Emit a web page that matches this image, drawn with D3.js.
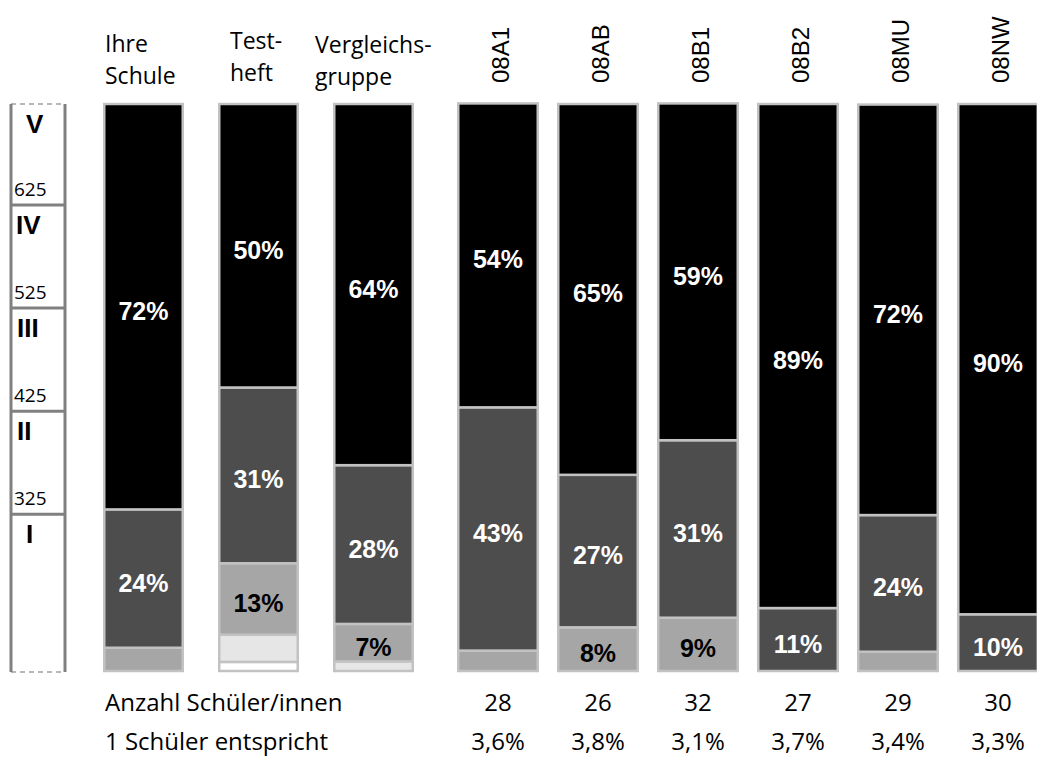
<!DOCTYPE html>
<html>
<head>
<meta charset="utf-8">
<title>Kompetenzstufen</title>
<script src="https://cdn.jsdelivr.net/npm/d3@7"></script>
<style>
body { margin: 0; background: #fff; }
.head { font-family: "Open Sans", sans-serif; font-size: 23px; fill: #000; }
.cls { font-family: "Liberation Sans", Arial, sans-serif; font-size: 24px; fill: #000; }
.pct { font-family: "Liberation Sans", Arial, sans-serif; font-size: 25px; font-weight: bold; }
.foot { font-family: "Open Sans", sans-serif; font-size: 24px; fill: #000; }
.roman { font-family: "Liberation Sans", Arial, sans-serif; font-size: 26px; font-weight: bold; }
.score { font-family: "Open Sans", sans-serif; font-size: 19px; }
</style>
</head>
<body>
<script>
// Spalten
var fixedCols = ["Ihre Schule", "Testheft", "Vergleichsgruppe"];
var classCols = ["08A1", "08AB", "08B1", "08B2", "08MU", "08NW"];
var headLines = [["Ihre", "Schule"], ["Test-", "heft"], ["Vergleichs-", "gruppe"]];

// Anteile je Stufe in %, von unten nach oben
var lvlWhite = [0, 1.6, 0, 0, 0, 0, 0, 0, 0];
var lvlLight = [0, 4.8, 1.7, 0, 0, 0, 0, 0, 0];
var lvlMid   = [4.1, 12.6, 6.6, 3.6, 7.7, 9.4, 0, 3.4, 0];
var lvlDark  = [24.4, 31.0, 28.0, 42.9, 26.9, 31.3, 11.1, 24.1, 10.0];
var lvlBlack = [71.5, 50.0, 63.7, 53.6, 65.4, 59.4, 88.9, 72.4, 90.0];

var counts = ["28", "26", "32", "27", "29", "30"];
var perStudent = ["3,6%", "3,8%", "3,1%", "3,7%", "3,4%", "3,3%"];

// Skala links
var romans = ["V", "IV", "III", "II", "I"];
var romanDx = [26, 16, 17, 17, 26];
var bounds = [625, 525, 425, 325];
var scoreTop = 723, scoreBottom = 172;

var width = 1037, height = 760;
var barTop = 104, barBottom = 671;

var svg = d3.select("body").append("svg")
  .attr("width", width)
  .attr("height", height);

var xFixed = d3.scaleBand().domain(fixedCols).range([103, 414]).paddingInner(0.2957).paddingOuter(0);
var xClass = d3.scaleBand().domain(classCols).range([457, 1039]).paddingInner(0.18).paddingOuter(0);
function xOf(name) { return fixedCols.indexOf(name) >= 0 ? xFixed(name) : xClass(name); }
function bw(name) { return fixedCols.indexOf(name) >= 0 ? xFixed.bandwidth() : xClass.bandwidth(); }

var y = d3.scaleLinear().domain([0, 100]).range([barBottom, barTop]);
var yScore = d3.scaleLinear().domain([scoreBottom, scoreTop]).range([672, 104]);

var fills = ["#ffffff", "#e6e6e6", "#a6a6a6", "#4d4d4d", "#000000"];
var textFill = ["#000", "#000", "#000", "#fff", "#fff"];
var levels = [lvlWhite, lvlLight, lvlMid, lvlDark, lvlBlack];
var allCols = fixedCols.concat(classCols);

// Segmente aufbauen
var segs = [];
allCols.forEach(function(c, i) {
  var acc = 0;
  levels.forEach(function(arr, k) {
    var v = arr[i];
    if (v > 0) segs.push({ col: c, k: k, y0: acc, y1: acc + v, v: v });
    acc += v;
  });
});

svg.selectAll("rect.seg")
  .data(segs)
  .enter().append("rect")
  .attr("class", "seg")
  .attr("x", function(d) { return xOf(d.col) + 1.25; })
  .attr("width", function(d) { return bw(d.col) - 2.5; })
  .attr("y", function(d) { return y(d.y1); })
  .attr("height", function(d) { return y(d.y0) - y(d.y1); })
  .style("fill", function(d) { return fills[d.k]; })
  .style("stroke", "#c2c2c2")
  .style("stroke-width", 2.5);

svg.selectAll("text.pct")
  .data(segs.filter(function(d) { return d.v >= 6; }))
  .enter().append("text")
  .attr("class", "pct")
  .attr("x", function(d) { return xOf(d.col) + bw(d.col) / 2; })
  .attr("y", function(d) { return y((d.y0 + d.y1) / 2) + 13; })
  .attr("text-anchor", "middle")
  .style("fill", function(d) { return textFill[d.k]; })
  .text(function(d) { return Math.round(d.v) + "%"; });

// Kopfzeilen
var headDx = [2, 12, -18];
var headBase = [[52, 84], [49, 81], [53, 85]];
fixedCols.forEach(function(c, i) {
  var t = svg.append("text").attr("class", "head");
  headLines[i].forEach(function(line, j) {
    t.append("tspan")
      .attr("x", xFixed(c) + headDx[i])
      .attr("y", headBase[i][j])
      .text(line);
  });
});

svg.selectAll("text.cls")
  .data(classCols)
  .enter().append("text")
  .attr("class", "cls")
  .attr("transform", function(d) { return "translate(" + (xClass(d) + xClass.bandwidth() / 2 + 11) + ",83) rotate(-90)"; })
  .text(function(d) { return d; });

// Skala links
var sc = svg.append("g");
sc.append("line").attr("x1", 11).attr("x2", 65).attr("y1", yScore(scoreTop)).attr("y2", yScore(scoreTop))
  .style("stroke", "#b8b8b8").style("stroke-width", 2).style("stroke-dasharray", "5,4");
sc.append("line").attr("x1", 11).attr("x2", 65).attr("y1", yScore(scoreBottom)).attr("y2", yScore(scoreBottom))
  .style("stroke", "#b8b8b8").style("stroke-width", 2).style("stroke-dasharray", "5,4");
[11, 65].forEach(function(xx) {
  sc.append("line").attr("x1", xx).attr("x2", xx).attr("y1", yScore(scoreTop)).attr("y2", yScore(scoreBottom))
    .style("stroke", "#808080").style("stroke-width", 3);
});
sc.selectAll("line.div")
  .data(bounds)
  .enter().append("line")
  .attr("class", "div")
  .attr("x1", 11).attr("x2", 65)
  .attr("y1", function(d) { return yScore(d); })
  .attr("y2", function(d) { return yScore(d); })
  .style("stroke", "#808080").style("stroke-width", 3);
sc.selectAll("text.score")
  .data(bounds)
  .enter().append("text")
  .attr("class", "score")
  .attr("x", 14)
  .attr("y", function(d) { return yScore(d) - 9; })
  .text(function(d) { return d; });
var levelTops = [scoreTop].concat(bounds);
sc.selectAll("text.roman")
  .data(romans)
  .enter().append("text")
  .attr("class", "roman")
  .attr("x", function(d, i) { return romanDx[i]; })
  .attr("y", function(d, i) { return yScore(levelTops[i]) + 29; })
  .text(function(d) { return d; });

// Fußzeilen
svg.append("text").attr("class", "foot").attr("x", 105).attr("y", 711).text("Anzahl Schüler/innen");
svg.append("text").attr("class", "foot").attr("x", 105).attr("y", 750).text("1 Schüler entspricht");
svg.selectAll("text.cnt")
  .data(counts)
  .enter().append("text")
  .attr("class", "foot")
  .attr("text-anchor", "middle")
  .attr("x", function(d, i) { return xClass(classCols[i]) + xClass.bandwidth() / 2; })
  .attr("y", 711)
  .text(function(d) { return d; });
svg.selectAll("text.per")
  .data(perStudent)
  .enter().append("text")
  .attr("class", "foot")
  .attr("text-anchor", "middle")
  .attr("x", function(d, i) { return xClass(classCols[i]) + xClass.bandwidth() / 2; })
  .attr("y", 750)
  .text(function(d) { return d; });
</script>
</body>
</html>
